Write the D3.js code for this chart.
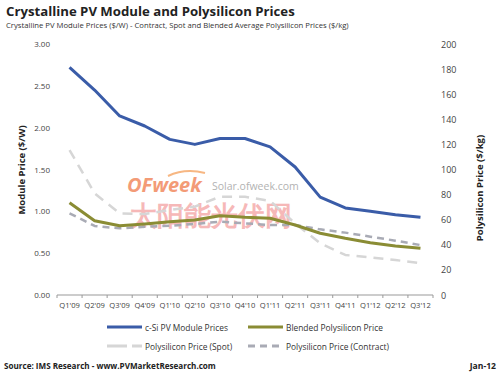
<!DOCTYPE html>
<html>
<head>
<meta charset="utf-8">
<script src="https://cdn.jsdelivr.net/npm/d3@7"></script>
<style>
  body { margin: 0; background: #fff; }
  text { font-family: "Open Sans", "DejaVu Sans", sans-serif; }
</style>
</head>
<body>
<div id="chart"></div>
<script>
var quarters = ["Q1'09", "Q2'09", "Q3'09", "Q4'09", "Q1'10", "Q2'10", "Q3'10", "Q4'10",
                "Q1'11", "Q2'11", "Q3'11", "Q4'11", "Q1'12", "Q2'12", "Q3'12"];
// $/W, left axis
var modulePrice = [2.72, 2.45, 2.14, 2.02, 1.86, 1.80, 1.87, 1.87, 1.77, 1.53, 1.17, 1.04, 1.00, 0.96, 0.93];
// $/kg, right axis
var blendedPrice = [73.5, 59.2, 55.2, 56.6, 58.4, 59.8, 63.2, 61.9, 61.1, 55.8, 49.2, 45.2, 41.7, 39.0, 37.2];
var spotPrice = [115.5, 81, 65, 64.5, 67.7, 70.4, 78.3, 78.3, 75, 57, 41.2, 31.9, 30, 27.9, 25.3];
var contractPrice = [65.1, 55, 53.1, 54.4, 55.2, 56.6, 58.4, 57.1, 55.8, 55.8, 52.3, 49.7, 46.5, 43.3, 39.8];
var leftTicks = [0, 0.5, 1, 1.5, 2, 2.5, 3];
var rightTicks = [0, 20, 40, 60, 80, 100, 120, 140, 160, 180, 200];

var width = 500, height = 373;
var svg = d3.select("#chart").append("svg")
    .attr("width", width)
    .attr("height", height);

var x = d3.scaleBand().domain(quarters).range([57, 433]);
var yL = d3.scaleLinear().domain([0, 3]).range([295, 44]);
var yR = d3.scaleLinear().domain([0, 200]).range([295, 44]);

// titles
svg.append("text").attr("x", 6).attr("y", 16)
    .attr("font-size", 13.2).attr("font-weight", "bold").attr("fill", "#222")
    .text("Crystalline PV Module and Polysilicon Prices");
svg.append("text").attr("x", 6).attr("y", 28)
    .attr("font-size", 7.7).attr("fill", "#333")
    .text("Crystalline PV Module Prices ($/W) - Contract, Spot and Blended Average Polysilicon Prices ($/kg)");

// watermark
var wm = svg.append("g").attr("opacity", 0.75);
wm.append("text").attr("x", 127).attr("y", 192)
    .attr("font-size", 20).attr("font-weight", "bold").attr("font-style", "italic")
    .attr("fill", "#f07a4a").text("OFweek");
wm.append("path").attr("d", "M168,176 Q185,168 205,173")
    .attr("fill", "none").attr("stroke", "#f5a05a").attr("stroke-width", 2);
wm.append("text").attr("x", 212).attr("y", 190)
    .attr("font-size", 10.5).attr("fill", "#999").text("Solar.ofweek.com");
wm.append("text").attr("x", 130).attr("y", 225)
    .attr("font-size", 27).attr("font-weight", "bold")
    .attr("font-family", "Noto Sans CJK SC")
    .attr("fill", "#f28a8a").attr("opacity", 0.8).text("太阳能光伏网");

// left axis labels
svg.append("g").selectAll("text").data(leftTicks).enter().append("text")
    .attr("x", 50).attr("y", function(d) { return yL(d) + 3; })
    .attr("text-anchor", "end").attr("font-size", 8).attr("fill", "#444")
    .text(function(d) { return d3.format(".2f")(d); });

// right axis labels
svg.append("g").selectAll("text").data(rightTicks).enter().append("text")
    .attr("x", 441).attr("y", function(d) { return yR(d) + 3.5; })
    .attr("font-size", 9).attr("fill", "#444")
    .text(function(d) { return d; });

// axis titles
svg.append("text").attr("transform", "translate(25,170) rotate(-90)")
    .attr("text-anchor", "middle").attr("font-size", 9.5).attr("font-weight", "bold").attr("fill", "#222")
    .text("Module Price ($/W)");
svg.append("text").attr("transform", "translate(483,188) rotate(-90)")
    .attr("text-anchor", "middle").attr("font-size", 9.5).attr("font-weight", "bold").attr("fill", "#222")
    .text("Polysilicon Price ($/kg)");

// x axis
var xAxis = svg.append("g").attr("transform", "translate(0,295)");
xAxis.append("line").attr("x1", 57).attr("x2", 433).attr("stroke", "#999");
xAxis.selectAll(".tk").data(quarters.concat(["end"])).enter().append("line")
    .attr("x1", function(d, i) { return 57 + i * x.bandwidth(); })
    .attr("x2", function(d, i) { return 57 + i * x.bandwidth(); })
    .attr("y1", 0).attr("y2", 3).attr("stroke", "#999");
xAxis.selectAll(".lbl").data(quarters).enter().append("text")
    .attr("x", function(d) { return x(d) + x.bandwidth() / 2; })
    .attr("y", 13).attr("text-anchor", "middle")
    .attr("font-size", 7.6).attr("fill", "#444")
    .text(function(d) { return d; });

function cx(d, i) { return x(quarters[i]) + x.bandwidth() / 2; }

var series = [
  { data: spotPrice, scale: yR, color: "#d6d6d6", width: 2.5, dash: "10,7" },
  { data: contractPrice, scale: yR, color: "#a9abb5", width: 2.5, dash: "7,5" },
  { data: blendedPrice, scale: yR, color: "#8a8c34", width: 3, dash: null },
  { data: modulePrice, scale: yL, color: "#3a5ca8", width: 3, dash: null }
];

series.forEach(function(s) {
  var line = d3.line().x(cx).y(function(d) { return s.scale(d); });
  svg.append("path").datum(s.data)
      .attr("d", line)
      .attr("fill", "none")
      .attr("stroke", s.color)
      .attr("stroke-width", s.width)
      .attr("stroke-linejoin", "round")
      .attr("stroke-dasharray", s.dash);
});

// legend
var legend = [
  { label: "c-Si PV Module Prices", color: "#3a5ca8", dash: null, x: 107, y: 327 },
  { label: "Blended Polysilicon Price", color: "#8a8c34", dash: null, x: 248, y: 327 },
  { label: "Polysilicon Price (Spot)", color: "#d6d6d6", dash: "20,5", x: 107, y: 346 },
  { label: "Polysilicon Price (Contract)", color: "#a9abb5", dash: "7,5", x: 248, y: 346 }
];
var lg = svg.append("g").selectAll("g").data(legend).enter().append("g");
lg.append("line")
    .attr("x1", function(d) { return d.x; }).attr("x2", function(d) { return d.x + 35; })
    .attr("y1", function(d) { return d.y; }).attr("y2", function(d) { return d.y; })
    .attr("stroke", function(d) { return d.color; })
    .attr("stroke-width", 3)
    .attr("stroke-dasharray", function(d) { return d.dash; });
lg.append("text")
    .attr("x", function(d) { return d.x + 38; }).attr("y", function(d) { return d.y + 3.5; })
    .attr("font-size", 8.4).attr("fill", "#333")
    .text(function(d) { return d.label; });

// footer
svg.append("text").attr("x", 4).attr("y", 369)
    .attr("font-size", 8.1).attr("font-weight", "bold").attr("fill", "#222")
    .text("Source: IMS Research - www.PVMarketResearch.com");
svg.append("text").attr("x", 496).attr("y", 369).attr("text-anchor", "end")
    .attr("font-size", 8.6).attr("font-weight", "bold").attr("fill", "#222")
    .text("Jan-12");
</script>
</body>
</html>
